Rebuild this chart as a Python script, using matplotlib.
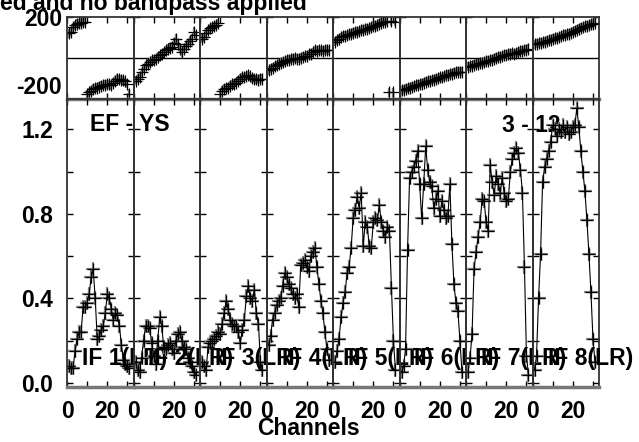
import numpy as np
import matplotlib.pyplot as plt

plt.rcParams['font.family'] = ['Liberation Sans', 'DejaVu Sans']
plt.rcParams['font.weight'] = 'bold'

# channels 1..31 for every IF
chan = np.arange(1, 32)
if_names = ['IF 1(LR)', 'IF 2(LR)', 'IF 3(LR)', 'IF 4(LR)',
            'IF 5(LR)', 'IF 6(LR)', 'IF 7(LR)', 'IF 8(LR)']

# amplitude per IF
amp_if1 = [0.08, 0.07, 0.07, 0.15, 0.21, 0.24, 0.24, 0.36, 0.36, 0.38, 0.42, 0.50, 0.54, 0.40, 0.21, 0.22,
           0.25, 0.27, 0.33, 0.42, 0.40, 0.35, 0.30, 0.33, 0.32, 0.27, 0.18, 0.11, 0.09, 0.08, 0.07]
amp_if2 = [0.10, 0.06, 0.05, 0.12, 0.20, 0.27, 0.27, 0.26, 0.19, 0.13, 0.09, 0.20, 0.31, 0.27, 0.17, 0.16,
           0.18, 0.19, 0.16, 0.14, 0.20, 0.23, 0.24, 0.20, 0.17, 0.16, 0.12, 0.10, 0.08, 0.05, 0.04]
amp_if3 = [0.10, 0.08, 0.06, 0.17, 0.19, 0.20, 0.21, 0.22, 0.24, 0.23, 0.28, 0.33, 0.39, 0.35, 0.30, 0.28,
           0.27, 0.27, 0.24, 0.19, 0.25, 0.30, 0.41, 0.46, 0.40, 0.39, 0.44, 0.33, 0.28, 0.10, 0.06]
amp_if4 = [0.18, 0.22, 0.30, 0.33, 0.37, 0.39, 0.40, 0.46, 0.52, 0.50, 0.47, 0.45, 0.42, 0.40, 0.42, 0.36,
           0.56, 0.57, 0.58, 0.55, 0.53, 0.60, 0.62, 0.64, 0.55, 0.47, 0.39, 0.33, 0.24, 0.16, 0.11]
amp_if5 = [0.10, 0.15, 0.21, 0.31, 0.38, 0.43, 0.52, 0.55, 0.64, 0.78, 0.82, 0.88, 0.83, 0.90, 0.65, 0.76,
           0.74, 0.65, 0.64, 0.76, 0.78, 0.77, 0.84, 0.76, 0.72, 0.69, 0.74, 0.72, 0.45, 0.20, 0.06]
amp_if6 = [0.05, 0.08, 0.16, 0.63, 0.97, 1.00, 1.02, 1.05, 1.10, 0.94, 0.78, 0.94, 1.12, 1.01, 0.95, 0.93,
           0.83, 0.87, 0.91, 0.79, 0.86, 0.82, 0.78, 0.79, 0.94, 0.66, 0.47, 0.38, 0.34, 0.20, 0.05]
amp_if7 = [0.05, 0.12, 0.23, 0.54, 0.62, 0.69, 0.76, 0.87, 0.86, 0.76, 0.72, 1.03, 0.95, 0.89, 0.98, 0.94,
           0.90, 0.97, 0.90, 0.86, 0.87, 1.00, 1.06, 1.09, 1.11, 1.09, 1.01, 0.90, 0.55, 0.13, 0.04]
amp_if8 = [0.06, 0.13, 0.40, 0.61, 0.95, 1.02, 1.06, 1.10, 1.14, 1.22, 1.20, 1.17, 1.20, 1.19, 1.22, 1.19,
           1.21, 1.18, 1.19, 1.21, 1.22, 1.30, 1.21, 1.10, 1.00, 0.91, 0.77, 0.61, 0.43, 0.21, 0.10]

# phase (deg) per IF
ph_if1 = [120, 127, 150, 160, 167, 170, 172, 175, 176, -178, -166, -160, -150, -148, -145, -140,
          -135, -133, -130, -129, -128, -133, -120, -110, -101, -104, -105, -108, -113, -125, -174]
ph_if2 = [-110, -100, -93, -70, -52, -35, -28, -20, -11, -8, -5, 5, 13, 20, 29, 38,
          46, 50, 54, 75, 94, 70, 45, 29, 46, 60, 70, 85, 94, 127, 110]
ph_if3 = [95, 102, 120, 135, 145, 151, 155, 160, 170, -175, -160, -150, -147, -145, -135, -129,
          -125, -120, -110, -100, -95, -93, -90, -85, -90, -98, -101, -103, -105, -102, -101]
ph_if4 = [-60, -52, -48, -40, -36, -28, -22, -20, -15, -11, -8, -5, -3, -2, -4, -3,
          0, 5, 8, 12, 18, 21, 28, 37, 35, 37, 38, 36, 37, 40, 38]
ph_if5 = [80, 86, 95, 102, 105, 108, 111, 115, 119, 122, 125, 127, 130, 135, 138, 140,
          143, 146, 151, 155, 158, 160, 168, 172, 176, 178, 179, -166, 179, -168, 178]
ph_if6 = [-158, -155, -150, -147, -144, -141, -137, -133, -130, -127, -125, -121, -117, -114, -111, -108,
          -105, -101, -98, -95, -93, -89, -85, -82, -79, -76, -73, -70, -68, -67, -66]
ph_if7 = [-42, -40, -37, -34, -31, -28, -26, -24, -20, -17, -13, -11, -8, -3, 0, 3,
          5, 9, 13, 16, 19, 21, 22, 21, 24, 29, 32, 35, 37, 40, 45]
ph_if8 = [66, 70, 72, 75, 78, 80, 84, 86, 90, 94, 97, 100, 102, 106, 111, 114,
          117, 119, 124, 127, 133, 138, 143, 147, 151, 155, 158, 160, 165, 168, 172]

amps = [amp_if1, amp_if2, amp_if3, amp_if4, amp_if5, amp_if6, amp_if7, amp_if8]
phases = [ph_if1, ph_if2, ph_if3, ph_if4, ph_if5, ph_if6, ph_if7, ph_if8]

W, H = 639, 442
fig = plt.figure(figsize=(W / 100, H / 100), dpi=100)

x0 = 67 / W
pw = 66.5 / W
fs = 16.5
frame_col = '#333333'

for i in range(8):
    axp = fig.add_axes([x0 + i * pw, 1 - 99 / H, pw, 82 / H])
    axa = fig.add_axes([x0 + i * pw, 1 - 387 / H, pw, 288 / H])

    # phase panel
    axp.axhline(0, color='k', lw=1)
    axp.errorbar(chan, phases[i], yerr=22, fmt='none', ecolor='#888888', elinewidth=1.6)
    axp.plot(chan, phases[i], '+', color='k', ms=8, mew=0.9)
    axp.set_xlim(0, 33)
    axp.set_ylim(-200, 200)
    axp.set_xticks([0, 10, 20, 30])
    axp.set_xticklabels([])
    axp.set_yticks([-200, 200])
    if i == 0:
        lbls = axp.set_yticklabels(['-200', '200'], fontsize=fs, fontweight='bold')
        lbls[0].set_va('bottom')
    else:
        axp.set_yticklabels([])
    axp.tick_params(direction='in', length=4, width=1, top=True, right=True, pad=3.5)

    # amplitude panel
    axa.plot(chan, amps[i], '+', color='#888888', ms=10, mew=1.6)
    axa.plot(chan, amps[i], '-+', color='k', lw=0.8, ms=8, mew=0.9)
    axa.set_xlim(0, 33)
    axa.set_ylim(-0.019, 1.344)
    axa.set_xticks([0, 10, 20, 30])
    axa.set_xticklabels(['0', '', '20', ''], fontsize=fs, fontweight='bold')
    axa.set_yticks(np.arange(0, 1.21, 0.2))
    if i == 0:
        axa.set_yticklabels(['0.0', '', '0.4', '', '0.8', '', '1.2'], fontsize=fs, fontweight='bold')
    else:
        axa.set_yticklabels([])
    axa.tick_params(direction='in', length=4, width=1, top=True, right=True)
    axa.tick_params(axis='y', pad=10)
    axa.tick_params(axis='x', pad=9)

    for ax in (axp, axa):
        for s in ax.spines.values():
            s.set_color(frame_col)
            s.set_linewidth(1.3)
        ax.spines['bottom'].set_color('#777777')
        ax.spines['bottom'].set_linewidth(2.5)
        ax.patch.set_alpha(0)

    axa.text(15 / 66.5, 1 - (365 - 99) / 288, if_names[i], transform=axa.transAxes,
             fontsize=fs, fontweight='bold', ha='left', va='baseline', clip_on=False, zorder=10)

    if i == 0:
        axa.text(23 / 66.5, 1 - (131 - 99) / 288, 'EF - YS', transform=axa.transAxes,
                 fontsize=fs, fontweight='bold', ha='left', va='baseline', clip_on=False, zorder=10)
    if i == 6:
        axa.text(36 / 66.5, 1 - (132 - 99) / 288, '3 - 12', transform=axa.transAxes,
                 fontsize=fs, fontweight='bold', ha='left', va='baseline', clip_on=False, zorder=10)

fig.text(307 / W, 1 - 10 / H, 'ed and no bandpass applied', fontsize=fs, fontweight='bold',
         ha='right', va='baseline')
fig.text(308 / W, 1 - 435 / H, 'Channels', fontsize=fs, fontweight='bold', ha='center', va='baseline')

fig.savefig('out.png', dpi=100)
